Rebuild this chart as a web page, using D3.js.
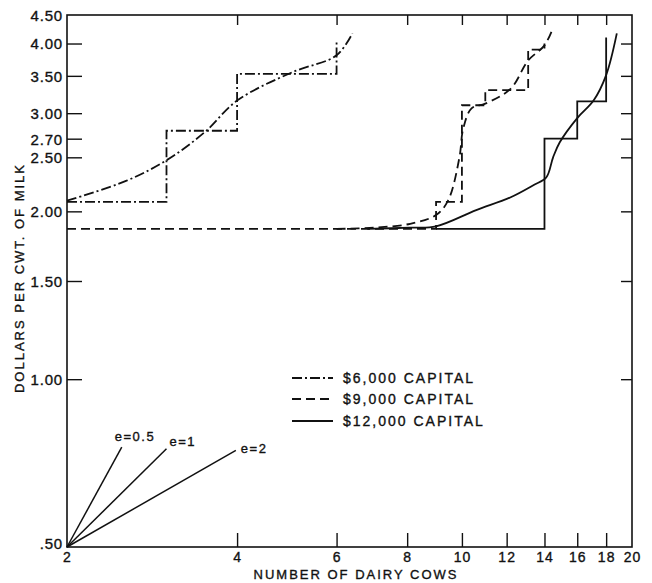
<!DOCTYPE html>
<html>
<head>
<meta charset="utf-8">
<script src="https://cdn.jsdelivr.net/npm/d3@7"></script>
<style>
  html, body { margin: 0; padding: 0; background: #fff; }
  svg { display: block; }
  text { font-family: "Liberation Sans", Arial, sans-serif; fill: #111; stroke: #111; stroke-width: 0.35px; }
</style>
</head>
<body>
<svg id="chart" width="652" height="583"></svg>
<script>
// ---- Data ----
const xTickValues = [2, 4, 6, 8, 10, 12, 14, 16, 18, 20];
const xTickLabels = ["2", "4", "6", "8", "10", "12", "14", "16", "18", "20"];
const yTickValues = [0.5, 1.0, 1.5, 2.0, 2.5, 2.7, 3.0, 3.5, 4.0, 4.5];
const yTickLabels = [".50", "1.00", "1.50", "2.00", "2.50", "2.70", "3.00", "3.50", "4.00", "4.50"];

// $6,000 capital
const step6000X = [2, 3, 3, 4, 4, 6, 6];
const step6000Y = [2.08, 2.08, 2.79, 2.79, 3.53, 3.53, 4.05];
const curve6000X = [2, 2.55, 3, 3.5, 4, 5, 6, 6.4];
const curve6000Y = [2.09, 2.27, 2.47, 2.77, 3.16, 3.55, 3.81, 4.17];

// $9,000 capital
const step9000X = [2, 9, 9, 10, 10, 11, 11, 13.1, 13.1, 14, 14];
const step9000Y = [1.86, 1.86, 2.08, 2.08, 3.10, 3.10, 3.30, 3.30, 3.90, 3.90, 4.0];
const curve9000X = [6, 7, 8.1, 9, 9.45, 9.9, 10.05, 10.4, 11, 12.2, 13.1, 14, 14.5];
const curve9000Y = [1.86, 1.87, 1.90, 1.97, 2.09, 2.50, 2.81, 3.06, 3.12, 3.32, 3.73, 3.97, 4.27];

// $12,000 capital
const step12000X = [9, 14, 14, 16, 16, 18, 18];
const step12000Y = [1.86, 1.86, 2.70, 2.70, 3.15, 3.15, 4.10];
const curve12000X = [6.8, 8.1, 9, 10.6, 12.2, 13.4, 14.1, 14.5, 14.9, 16, 17.1, 18, 18.8];
const curve12000Y = [1.86, 1.87, 1.88, 2.01, 2.12, 2.23, 2.30, 2.50, 2.66, 2.94, 3.16, 3.51, 4.17];

// elasticity reference lines
const elasticityLabels = ["e=0.5", "e=1", "e=2"];
const elasticityEndX = [2.5, 3.0, 3.98];
const elasticityEndY = [0.755, 0.75, 0.745];

const legendLabels = ["$6,000 CAPITAL", "$9,000 CAPITAL", "$12,000 CAPITAL"];

// ---- Layout ----
const svg = d3.select("#chart");
const mLeft = 67, mRight = 632, mTop = 15, mBottom = 547;
const x = d3.scaleLog().domain([2, 20]).range([mLeft, mRight]);
const y = d3.scaleLog().domain([0.5, 4.5]).range([mBottom, mTop]);

const ink = "#111";
const dashDot = "10,3,2,3";
const dashed = "9,5";
const fontFam = '"Liberation Sans", Arial, sans-serif';

// frame
svg.append("rect")
  .attr("x", mLeft).attr("y", mTop)
  .attr("width", mRight - mLeft).attr("height", mBottom - mTop)
  .attr("fill", "none").attr("stroke", ink).attr("stroke-width", 1.6);

// bottom axis (inward ticks)
const xAxisBottom = d3.axisBottom(x)
  .tickValues(xTickValues)
  .tickFormat((d, i) => xTickLabels[i])
  .tickSize(-14).tickPadding(5);
const gxb = svg.append("g").attr("transform", `translate(0,${mBottom})`).call(xAxisBottom);
gxb.select(".domain").remove();
gxb.selectAll(".tick line").attr("stroke", ink).attr("stroke-width", 1.4)
  .filter(d => d === 2 || d === 20).remove();
gxb.selectAll(".tick text").attr("font-size", 14).attr("letter-spacing", 1)
  .attr("fill", ink).style("font-family", fontFam);

// top axis ticks
const xAxisTop = d3.axisTop(x)
  .tickValues(xTickValues.filter(d => d > 2 && d < 20))
  .tickFormat("").tickSize(-10);
const gxt = svg.append("g").attr("transform", `translate(0,${mTop})`).call(xAxisTop);
gxt.select(".domain").remove();
gxt.selectAll(".tick line").attr("stroke", ink).attr("stroke-width", 1.4);

// left axis
const yAxisLeft = d3.axisLeft(y)
  .tickValues(yTickValues)
  .tickFormat((d, i) => yTickLabels[i])
  .tickSize(-15).tickPadding(4);
const gyl = svg.append("g").attr("transform", `translate(${mLeft},0)`).call(yAxisLeft);
gyl.select(".domain").remove();
gyl.selectAll(".tick line").attr("stroke", ink).attr("stroke-width", 1.4)
  .filter(d => d === 0.5 || d === 4.5).remove();
gyl.selectAll(".tick text").attr("font-size", 15).attr("letter-spacing", 0.8)
  .attr("fill", ink).style("font-family", fontFam)
  .attr("dy", d => d === 0.5 ? "0.1em" : "0.36em");

// right axis ticks
const yAxisRight = d3.axisRight(y)
  .tickValues(yTickValues.filter(d => d > 0.5 && d < 4.5))
  .tickFormat("").tickSize(-11);
const gyr = svg.append("g").attr("transform", `translate(${mRight},0)`).call(yAxisRight);
gyr.select(".domain").remove();
gyr.selectAll(".tick line").attr("stroke", ink).attr("stroke-width", 1.4);

// axis titles
svg.append("text")
  .attr("x", 356).attr("y", 579)
  .attr("text-anchor", "middle")
  .attr("font-size", 13).attr("letter-spacing", 2)
  .text("NUMBER OF DAIRY COWS");
svg.append("text")
  .attr("transform", "translate(24,278) rotate(-90)")
  .attr("text-anchor", "middle")
  .attr("font-size", 13).attr("letter-spacing", 2)
  .text("DOLLARS PER CWT. OF MILK");

// helpers
const zip = (xs, ys) => xs.map((v, i) => [v, ys[i]]);
const stepLine = d3.line().x(d => x(d[0])).y(d => y(d[1]));
const smoothLine = d3.line().x(d => x(d[0])).y(d => y(d[1])).curve(d3.curveCatmullRom.alpha(0.5));

function drawPath(pts, gen, dash, w) {
  svg.append("path")
    .datum(pts)
    .attr("d", gen)
    .attr("fill", "none")
    .attr("stroke", ink)
    .attr("stroke-width", w)
    .attr("stroke-dasharray", dash)
    .attr("stroke-linejoin", "miter");
}

// $6,000
drawPath(zip(step6000X, step6000Y), stepLine, dashDot, 1.8);
drawPath(zip(curve6000X, curve6000Y), smoothLine, dashDot, 1.8);
// $9,000
drawPath(zip(step9000X, step9000Y), stepLine, dashed, 1.8);
drawPath(zip(curve9000X, curve9000Y), smoothLine, dashed, 1.8);
// $12,000
drawPath(zip(step12000X, step12000Y), stepLine, null, 1.8);
drawPath(zip(curve12000X, curve12000Y), smoothLine, null, 1.8);

// elasticity lines
elasticityLabels.forEach((lab, i) => {
  svg.append("line")
    .attr("x1", x(2)).attr("y1", y(0.5))
    .attr("x2", x(elasticityEndX[i])).attr("y2", y(elasticityEndY[i]))
    .attr("stroke", ink).attr("stroke-width", 1.5);
});
const elabDx = [-7, 3, 5];
const elabDy = [-6, -3, 3];
elasticityLabels.forEach((lab, i) => {
  svg.append("text")
    .attr("x", x(elasticityEndX[i]) + elabDx[i])
    .attr("y", y(elasticityEndY[i]) + elabDy[i])
    .attr("font-size", 13).attr("letter-spacing", 1.5)
    .text(lab);
});

// legend
const legendDash = [dashDot, dashed, null];
const legendY = [378, 399, 421];
legendLabels.forEach((lab, i) => {
  svg.append("line")
    .attr("x1", 292).attr("x2", 333)
    .attr("y1", legendY[i]).attr("y2", legendY[i])
    .attr("stroke", ink).attr("stroke-width", 1.8)
    .attr("stroke-dasharray", legendDash[i]);
  svg.append("text")
    .attr("x", 343).attr("y", legendY[i] + 5)
    .attr("font-size", 14).attr("letter-spacing", 2)
    .text(lab);
});
</script>
</body>
</html>
